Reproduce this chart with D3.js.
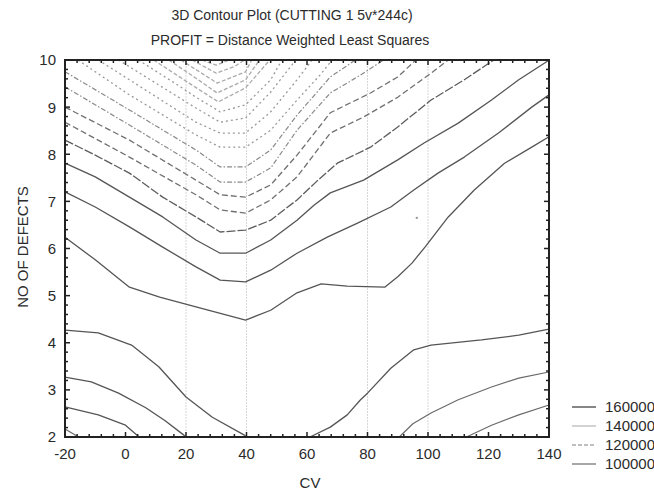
<!DOCTYPE html>
<html>
<head>
<meta charset="utf-8">
<title>3D Contour Plot (CUTTING 1 5v*244c)</title>
<script src="https://d3js.org/d3.v7.min.js"></script>
<style>
    body {
        margin: 0;
        background: #fff;
        font-family: "Liberation Sans", Arial, sans-serif;
    }
    text {
        fill: #2b2b2b;
    }
    .contour {
        fill: none;
        stroke-linejoin: round;
        stroke-linecap: butt;
    }
</style>
</head>
<body>
<svg width="654" height="490"></svg>
<script>
// axis ticks and labels
const cvTicks = [-20, 0, 20, 40, 60, 80, 100, 120, 140];
const defectTicks = [2, 3, 4, 5, 6, 7, 8, 9, 10];
const legendLevels = ["160000", "140000", "120000", "100000"];
const columnLines = [20, 40, 80, 100];
const strayPoints = [[96.3, 6.65]];

// contour lines, [CV, NO OF DEFECTS]
// lower-left group
const lineA = [[-20, 4.27], [-9, 4.21], [2, 3.95], [11, 3.49], [20, 2.85], [28.7, 2.42], [39.3, 2.04], [40, 2]];
const lineB = [[-20, 3.27], [-11.3, 3.17], [-2.3, 2.93], [6.7, 2.62], [13, 2.35], [19.3, 2.04], [20, 2]];
const lineC = [[-20, 2.64], [-9, 2.47], [0, 2.25], [4.5, 2]];
const lineD = [[-20, 2.17], [-15.5, 2]];
// lower-right group
const lineE = [[61, 2], [67.7, 2.21], [73.3, 2.47], [77.7, 2.79], [80, 2.93], [87.7, 3.46], [95.3, 3.85], [101, 3.95], [117.7, 4.06], [130, 4.16], [140, 4.29]];
const lineF = [[90.5, 2], [95, 2.28], [101, 2.51], [110, 2.79], [121, 3.06], [130, 3.25], [140, 3.38]];
const lineG = [[112.7, 2], [121, 2.25], [130, 2.47], [140, 2.68]];
// upper V group
const lineH = [[-20, 6.24], [-10, 5.76], [1.3, 5.18], [11.3, 4.97], [23.3, 4.76], [39.7, 4.48], [48, 4.69], [56.7, 5.06], [64.7, 5.25], [73.3, 5.2], [85.7, 5.18], [90, 5.4], [94.7, 5.69], [99, 6.03], [106.7, 6.67], [115.3, 7.24], [125.3, 7.81], [134.3, 8.15], [140, 8.37]];
const lineI = [[-20, 7.2], [-10, 6.88], [1.3, 6.46], [12.3, 6.03], [23.3, 5.61], [31.3, 5.33], [39.7, 5.29], [48, 5.54], [56.7, 5.9], [66.7, 6.24], [76.7, 6.54], [87.7, 6.88], [95.3, 7.24], [103.3, 7.6], [112, 7.94], [123.3, 8.45], [134.3, 9.0], [140, 9.26]];
const lineJ = [[-20, 7.81], [-10, 7.52], [1.3, 7.09], [12.3, 6.67], [23.3, 6.18], [31.3, 5.9], [39.7, 5.9], [48, 6.18], [56.7, 6.6], [62.3, 6.92], [67.7, 7.18], [78.7, 7.45], [90, 7.88], [98.7, 8.24], [110, 8.66], [121, 9.15], [130, 9.58], [138.7, 9.94], [140, 10]];
const lineK = [[-20, 8.3], [-10, 7.98], [1.3, 7.6], [12.3, 7.09], [23.3, 6.67], [31.3, 6.35], [39.7, 6.39], [48, 6.6], [56.7, 7.03], [63.3, 7.43], [70, 7.81], [81, 8.15], [90, 8.58], [101, 9.15], [112, 9.58], [121.7, 10]];
const lineL5 = [[-20, 8.68], [1.3, 7.94], [23.3, 7.14], [31.3, 6.82], [39.7, 6.75], [48, 7.03], [56.7, 7.52], [67.7, 8.45], [78.7, 8.79], [90, 9.21], [101, 9.72], [106.7, 10]];
const lineL6 = [[-20, 9.0], [1.3, 8.3], [23.3, 7.45], [31.3, 7.14], [39.7, 7.09], [48, 7.35], [56.7, 7.98], [67.7, 8.88], [81, 9.3], [90, 9.64], [96, 10]];
const lineL7 = [[-20, 9.43], [1.3, 8.62], [23.3, 7.77], [31.3, 7.41], [39.7, 7.41], [48, 7.71], [56.7, 8.51], [67.7, 9.3], [77.7, 9.68], [85.3, 10]];
const lineL8 = [[-20, 9.75], [1.3, 8.94], [23.3, 8.09], [31.3, 7.73], [39.7, 7.73], [48, 8.09], [56.7, 8.83], [67.7, 9.64], [76, 10]];
const lineL9 = [[-15.7, 10], [1.3, 9.26], [23.3, 8.41], [31.3, 8.15], [39.7, 8.15], [48, 8.51], [56.7, 9.15], [64.3, 9.68], [68.3, 10]];
const lineL10 = [[-9, 10], [1.3, 9.58], [23.3, 8.68], [31.3, 8.45], [39.7, 8.45], [48, 8.9], [56.7, 9.58], [61.7, 10]];
const lineL11 = [[-2.3, 10], [11, 9.47], [23.3, 8.98], [31.3, 8.68], [39.7, 8.77], [48, 9.32], [56.3, 10]];
const lineL12 = [[4.3, 10], [17.7, 9.45], [23.3, 9.21], [31.3, 8.9], [39.7, 9.05], [48, 9.58], [51.7, 10]];
const lineL13 = [[9.3, 10], [21, 9.51], [30.7, 9.11], [39.7, 9.41], [47.7, 10]];
const lineL14 = [[14.3, 10], [22.7, 9.64], [30.3, 9.3], [39.7, 9.58], [44.3, 10]];
const lineL15 = [[18.3, 10], [30.3, 9.51], [39.7, 9.75], [41.7, 10]];
const lineL16 = [[22, 10], [30, 9.72], [36.3, 9.87], [39.3, 10]];
const lineL17 = [[25.3, 10], [30, 9.89], [34.3, 10]];

// which drawing style each line gets
const contours = [
    {pts: lineA, st: "solid"}, {pts: lineB, st: "solid"}, {pts: lineC, st: "solid"}, {pts: lineD, st: "soft"},
    {pts: lineE, st: "solid"}, {pts: lineF, st: "soft"}, {pts: lineG, st: "soft"},
    {pts: lineH, st: "solid"}, {pts: lineI, st: "solid"}, {pts: lineJ, st: "solid"},
    {pts: lineK, st: "longdash"}, {pts: lineL5, st: "dash"}, {pts: lineL6, st: "dash"},
    {pts: lineL7, st: "dashdot"}, {pts: lineL8, st: "dashdot"},
    {pts: lineL9, st: "dot"}, {pts: lineL10, st: "dot"}, {pts: lineL11, st: "dot"}, {pts: lineL12, st: "dot"},
    {pts: lineL13, st: "light"}, {pts: lineL14, st: "light"}, {pts: lineL15, st: "light"},
    {pts: lineL16, st: "light"}, {pts: lineL17, st: "light"}
];
const styles = {
    solid:    {color: "#555", w: 1.3, dash: null},
    soft:     {color: "#6a6a6a", w: 1.2, dash: null},
    longdash: {color: "#5c5c5c", w: 1.3, dash: "9,2"},
    dash:     {color: "#707070", w: 1.3, dash: "6,3"},
    dashdot:  {color: "#8a8a8a", w: 1.2, dash: "5,2,1.5,2"},
    dot:      {color: "#9a9a9a", w: 1.3, dash: "2,3"},
    light:    {color: "#aaa", w: 1.3, dash: "4,2"}
};
const legendStyles = [
    {color: "#444", dash: null},
    {color: "#bbb", dash: null},
    {color: "#aaa", dash: "4,2"},
    {color: "#777", dash: null}
];

const svg = d3.select("svg");
const plotL = 65, plotR = 549, plotT = 60, plotB = 437;

const x = d3.scaleLinear().domain([-20, 140]).range([plotL, plotR]);
const y = d3.scaleLinear().domain([2, 10]).range([plotB, plotT]);

// titles
svg.append("text").attr("x", 292).attr("y", 20).attr("text-anchor", "middle")
    .style("font-size", "14px").text("3D Contour Plot (CUTTING 1 5v*244c)");
svg.append("text").attr("x", 290).attr("y", 45).attr("text-anchor", "middle")
    .style("font-size", "14px").text("PROFIT = Distance Weighted Least Squares");

// faint data column lines
svg.append("g").selectAll("line").data(columnLines).enter().append("line")
    .attr("x1", d => x(d)).attr("x2", d => x(d))
    .attr("y1", plotT).attr("y2", plotB)
    .attr("stroke", "#d6d6d6").attr("stroke-width", 1)
    .attr("stroke-dasharray", "2,1");

// contour lines
const line = d3.line().x(d => x(d[0])).y(d => y(d[1]));
svg.append("g").selectAll("path").data(contours).enter().append("path")
    .attr("class", "contour")
    .attr("d", d => line(d.pts))
    .attr("stroke", d => styles[d.st].color)
    .attr("stroke-width", d => styles[d.st].w)
    .attr("stroke-dasharray", d => styles[d.st].dash);

svg.append("g").selectAll("circle").data(strayPoints).enter().append("circle")
    .attr("cx", d => x(d[0])).attr("cy", d => y(d[1])).attr("r", 1.2)
    .attr("fill", "#999");

// frame
svg.append("rect").attr("x", plotL).attr("y", plotT)
    .attr("width", plotR - plotL).attr("height", plotB - plotT)
    .attr("fill", "none").attr("stroke", "#222").attr("stroke-width", 2);

// inward ticks on all four sides
const minorX = d3.range(-20, 140.01, 4);
const minorY = d3.range(2, 10.001, 0.2);
const ticks = svg.append("g").attr("stroke", "#222").attr("stroke-width", 1.5);
function isMajor(v, step) { return Math.abs(v / step - Math.round(v / step)) < 1e-6; }
minorX.forEach(v => {
    const len = isMajor(v, 20) ? 5 : 3;
    ticks.append("line").attr("x1", x(v)).attr("x2", x(v)).attr("y1", plotB).attr("y2", plotB - len);
    ticks.append("line").attr("x1", x(v)).attr("x2", x(v)).attr("y1", plotT).attr("y2", plotT + len);
});
minorY.forEach(v => {
    const len = isMajor(v, 1) ? 5 : 3;
    ticks.append("line").attr("y1", y(v)).attr("y2", y(v)).attr("x1", plotL).attr("x2", plotL + len);
    ticks.append("line").attr("y1", y(v)).attr("y2", y(v)).attr("x1", plotR).attr("x2", plotR - len);
});

// tick labels
svg.append("g").selectAll("text").data(cvTicks).enter().append("text")
    .attr("x", d => x(d)).attr("y", 459).attr("text-anchor", "middle")
    .style("font-size", "15px").text(d => d);
svg.append("g").selectAll("text").data(defectTicks).enter().append("text")
    .attr("x", 56).attr("y", d => y(d)).attr("dy", "0.36em").attr("text-anchor", "end")
    .style("font-size", "15px").text(d => d);

// axis titles
svg.append("text").attr("x", 310).attr("y", 488).attr("text-anchor", "middle")
    .style("font-size", "15px").text("CV");
svg.append("text").attr("transform", "translate(28,247) rotate(-90)").attr("text-anchor", "middle")
    .style("font-size", "15px").text("NO OF DEFECTS");

// legend
const legend = svg.append("g").selectAll("g").data(legendLevels).enter().append("g")
    .attr("transform", (d, i) => `translate(572,${407 + i * 19})`);
legend.append("line").attr("x1", 0).attr("x2", 24).attr("y1", 0).attr("y2", 0)
    .attr("stroke", (d, i) => legendStyles[i].color)
    .attr("stroke-width", 1.3)
    .attr("stroke-dasharray", (d, i) => legendStyles[i].dash);
legend.append("text").attr("x", 33).attr("dy", "0.36em")
    .style("font-size", "15px").text(d => d);
</script>
</body>
</html>
